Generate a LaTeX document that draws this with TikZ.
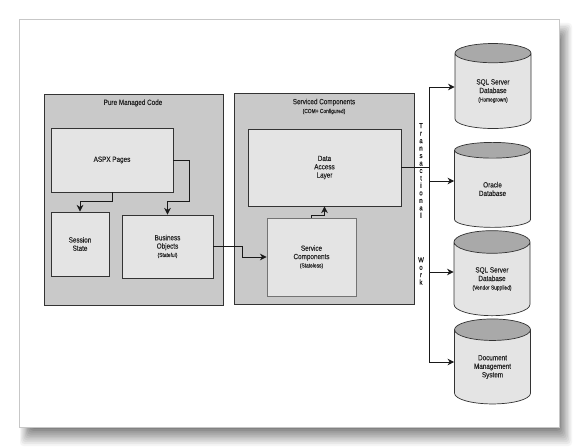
\documentclass[tikz,border=0pt]{standalone}
\usepackage{fontspec}
\setmainfont[FakeStretch=0.84,FakeBold=0.25]{Liberation Sans}
\usetikzlibrary{shapes.geometric,arrows.meta}
\definecolor{panegray}{HTML}{C9C9C9}
\definecolor{boxgray}{HTML}{E4E4E4}
\definecolor{capgray}{HTML}{A9A9A9}
\definecolor{linegray}{HTML}{333333}
\newcommand{\subtext}[1]{{\fontsize{3.3}{4.2}\selectfont #1}}
\tikzset{
  % grey panels and the lighter boxes inside them
  pane/.style={draw=linegray, line width=0.5pt, fill=panegray, inner sep=0pt},
  pagebox/.style={draw=linegray, line width=0.5pt, fill=boxgray, inner sep=0pt, align=center,
    text=black!85, font=\fontsize{4.3}{4.75}\selectfont},
  % the stores on the right
  store/.style={shape=cylinder, shape border rotate=90, aspect=0.58, draw=linegray, line width=0.4pt,
    cylinder uses custom fill, cylinder body fill=boxgray, cylinder end fill=capgray,
    minimum width=1.52cm, minimum height=1.7cm, inner sep=0pt, align=center,
    text=black!85, font=\fontsize{4.3}{4.85}\selectfont},
  paneltext/.style={inner sep=0pt, align=center, text=black!85, font=\fontsize{4.3}{5}\selectfont},
  upright/.style={inner sep=0pt, align=center, text=black!90, font=\fontsize{4.1}{4.25}\selectfont},
  conn/.style={draw=black!90, line width=0.5pt, >={Stealth[length=3.8pt,width=3.8pt]}},
}
\begin{document}
\begin{tikzpicture}[x=0.02cm, y=-0.02cm]
  \useasboundingbox (0,0) rectangle (580,448);
  % Draw the page and its shadow
  \fill[white] (0,0) rectangle (580,448);
  \foreach \i in {0,...,9}
    \fill[black!\the\numexpr 4+5*\i\relax, rounded corners=2pt] (20+\i*1.2,23+\i*1.6) rectangle (572-\i*1.4,446-\i*1.9);
  \filldraw[draw=black!22, line width=0.5pt, fill=white] (19,19) rectangle (559,427);
  % Draw the two panels
  \node[pane, minimum width=3.58cm, minimum height=4.22cm] (managed) at (133.5,199.5) {};
  \node[pane, minimum width=3.6cm, minimum height=4.22cm] (serviced) at (324,198.5) {};
  \node[paneltext] (managedtitle) at (133,103) {Pure Managed Code};
  \node[paneltext] (servicedtitle) at (324,106.5) {Serviced Components\\\subtext{(COM+ Configured)}};
  % Draw the boxes
  \node[pagebox, minimum width=2.44cm, minimum height=1.28cm] (aspx) at (112,160) {ASPX Pages};
  \node[pagebox, minimum width=1.16cm, minimum height=1.28cm] (session) at (80,244) {Session\\State};
  \node[pagebox, minimum width=1.82cm, minimum height=1.26cm] (business) at (167.5,246.5) {Business\\Objects\\\subtext{(Stateful)}};
  \node[pagebox, minimum width=3.06cm, minimum height=1.54cm] (data) at (324.5,167.5) {Data\\Access\\Layer};
  \node[pagebox, draw=black!55, minimum width=1.78cm, minimum height=1.56cm] (service) at (311.5,257) {Service\\Components\\\subtext{(Stateless)}};
  % Draw the databases
  \node[store] (homegrown) at (493,91) {SQL Server\\Database\\\subtext{(Homegrown)}};
  \node[store] (oracle) at (492.5,189) {Oracle\\Database};
  \node[store] (vendor) at (492,279) {SQL Server\\Database\\\subtext{(Vendor Supplied)}};
  \node[store] (document) at (492.5,367) {Document\\Management\\System};
  % Draw the vertical words
  \node[upright] (transactional) at (421,170.5) {T\\r\\a\\n\\s\\a\\c\\t\\i\\o\\n\\a\\l};
  \node[upright] (work) at (421,271) {W\\o\\r\\k};
  % Draw the arrows between the boxes
  \draw[conn, ->] (aspx.south) -- ++(0,9) -| (session.north);
  \draw[conn, ->] (aspx.east) -- ++(16,0) -- ++(0,41) -| (business.north);
  \draw[conn, ->] (business.east) -- ++(29,0) |- (service.west);
  \draw[conn, ->] (service.north) -- ++(0,-2) -| (data.south);
  % Draw the bus to the databases
  \coordinate (busone) at (429,87);
  \coordinate (bustwo) at (429,181);
  \coordinate (busthree) at (429,272);
  \coordinate (busfour) at (429,362);
  \draw[conn] (busone) -- (busfour);
  \draw[conn] (data.east) -- (data.east -| busone);
  \draw[conn, ->] (busone) -- (busone -| homegrown.west);
  \draw[conn, ->] (bustwo) -- (bustwo -| oracle.west);
  \draw[conn, ->] (busthree) -- (busthree -| vendor.west);
  \draw[conn, ->] (busfour) -- (busfour -| document.west);
\end{tikzpicture}
\end{document}
